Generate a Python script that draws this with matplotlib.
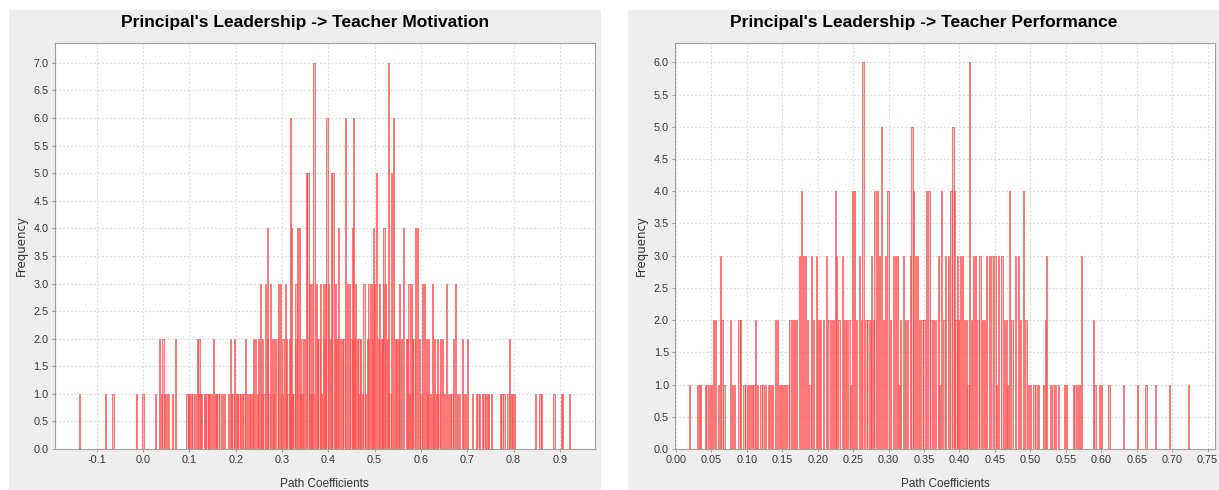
import numpy as np
import matplotlib
matplotlib.use("Agg")
import matplotlib.pyplot as plt
from matplotlib.patches import Rectangle

plt.rcParams['font.family'] = ['Liberation Sans Narrow', 'Liberation Sans', 'DejaVu Sans']

# bootstrap path coefficients, grouped by bin frequency
# Principal's Leadership -> Teacher Motivation
mot_7 = [0.369, 0.530]
mot_6 = [0.318, 0.397, 0.437, 0.454, 0.541]
mot_5 = [0.353, 0.356, 0.406, 0.410, 0.504, 0.536]
mot_4 = [0.269, 0.320, 0.334, 0.338, 0.422, 0.452, 0.498, 0.520, 0.563, 0.588, 0.592]
mot_3 = [0.253, 0.264, 0.276, 0.293, 0.297, 0.307, 0.330, 0.359, 0.364, 0.374, 0.383,
         0.389, 0.394, 0.401, 0.416, 0.441, 0.446, 0.459, 0.477, 0.488, 0.493, 0.500,
         0.511, 0.519, 0.523, 0.554, 0.574, 0.579, 0.603, 0.608, 0.624, 0.655, 0.675]
mot_2 = [0.035, 0.043, 0.070, 0.118, 0.121, 0.152, 0.188, 0.197, 0.222, 0.239, 0.243,
         0.250, 0.258, 0.268, 0.279, 0.284, 0.289, 0.302, 0.310, 0.316, 0.329, 0.343,
         0.348, 0.376, 0.380, 0.392, 0.404, 0.415, 0.419, 0.426, 0.430, 0.434, 0.449,
         0.457, 0.463, 0.466, 0.470, 0.484, 0.487, 0.496, 0.508, 0.514, 0.517, 0.527,
         0.545, 0.548, 0.551, 0.558, 0.568, 0.571, 0.582, 0.585, 0.596, 0.612, 0.617,
         0.630, 0.636, 0.642, 0.646, 0.670, 0.689, 0.701, 0.791]
mot_1 = [-0.137, -0.081, -0.065, -0.014, 0.000, 0.027, 0.039, 0.047, 0.051, 0.055,
         0.064, 0.095, 0.098, 0.101, 0.104, 0.108, 0.113, 0.123, 0.126, 0.132, 0.135,
         0.138, 0.141, 0.144, 0.147, 0.156, 0.159, 0.162, 0.166, 0.171, 0.175, 0.184,
         0.191, 0.194, 0.201, 0.204, 0.207, 0.211, 0.215, 0.218, 0.226, 0.229, 0.232,
         0.236, 0.247, 0.256, 0.261, 0.272, 0.282, 0.300, 0.313, 0.323, 0.326, 0.340,
         0.345, 0.362, 0.367, 0.386, 0.468, 0.474, 0.481, 0.533, 0.576, 0.600, 0.614,
         0.620, 0.627, 0.633, 0.639, 0.650, 0.660, 0.664, 0.667, 0.678, 0.684, 0.692,
         0.696, 0.711, 0.720, 0.723, 0.727, 0.732, 0.736, 0.739, 0.743, 0.746, 0.752,
         0.772, 0.775, 0.779, 0.788, 0.795, 0.798, 0.802, 0.848, 0.857, 0.860, 0.887,
         0.903, 0.906, 0.920]

# Principal's Leadership -> Teacher Performance
perf_6 = [0.264, 0.414]
perf_5 = [0.290, 0.333, 0.391]
perf_4 = [0.177, 0.225, 0.249, 0.252, 0.281, 0.284, 0.299, 0.335, 0.353, 0.357, 0.375,
          0.388, 0.393, 0.471, 0.490]
perf_3 = [0.063, 0.174, 0.180, 0.183, 0.191, 0.198, 0.212, 0.227, 0.235, 0.259, 0.276,
          0.287, 0.296, 0.307, 0.310, 0.313, 0.321, 0.331, 0.338, 0.341, 0.370, 0.380,
          0.384, 0.397, 0.401, 0.404, 0.420, 0.423, 0.429, 0.438, 0.442, 0.446, 0.450,
          0.455, 0.460, 0.479, 0.483, 0.523, 0.572]
perf_2 = [0.053, 0.056, 0.065, 0.077, 0.089, 0.091, 0.112, 0.140, 0.143, 0.161, 0.164,
          0.167, 0.170, 0.186, 0.194, 0.201, 0.204, 0.208, 0.216, 0.219, 0.222, 0.230,
          0.238, 0.241, 0.244, 0.255, 0.262, 0.268, 0.271, 0.274, 0.279, 0.293, 0.303,
          0.317, 0.324, 0.327, 0.344, 0.347, 0.350, 0.360, 0.363, 0.366, 0.378, 0.395,
          0.399, 0.407, 0.410, 0.417, 0.426, 0.432, 0.435, 0.463, 0.466, 0.474, 0.486,
          0.494, 0.521, 0.589]
perf_1 = [0.019, 0.030, 0.033, 0.035, 0.042, 0.044, 0.047, 0.050, 0.060, 0.068, 0.080,
          0.083, 0.096, 0.099, 0.102, 0.105, 0.108, 0.110, 0.115, 0.120, 0.123, 0.126,
          0.131, 0.133, 0.136, 0.146, 0.149, 0.152, 0.155, 0.158, 0.189, 0.246, 0.315,
          0.372, 0.412, 0.452, 0.468, 0.497, 0.500, 0.505, 0.508, 0.511, 0.519, 0.528,
          0.532, 0.535, 0.540, 0.548, 0.551, 0.561, 0.563, 0.566, 0.569, 0.591, 0.597,
          0.600, 0.611, 0.631, 0.651, 0.663, 0.676, 0.696, 0.723]

mot_groups = [mot_1, mot_2, mot_3, mot_4, mot_5, mot_6, mot_7]
perf_groups = [perf_1, perf_2, perf_3, perf_4, perf_5, perf_6]


def flatten(groups):
    xs, fs = [], []
    for h, vals in enumerate(groups, start=1):
        xs += vals
        fs += [h] * len(vals)
    return np.array(xs), np.array(fs)


W, H = 1219, 490
fig = plt.figure(figsize=(W / 100, H / 100), dpi=100)
fig.patch.set_facecolor('white')

# grey panel backgrounds
for x0, x1 in [(9, 601), (628, 1219)]:
    fig.patches.append(Rectangle((x0 / W, 0), (x1 - x0) / W, (490 - 10) / H,
                                 transform=fig.transFigure, facecolor='#eeeeee',
                                 edgecolor='none', zorder=-10))

panels = [
    dict(groups=mot_groups, title="Principal's Leadership -> Teacher Motivation",
         left=54.7, right=594.7, xlim=(-0.1907, 0.975), ylim=(0, 7.36),
         xticks=np.arange(-0.1, 0.95, 0.1), fmt='{:.1f}', width=0.0026,
         yticks=np.arange(0, 7.01, 0.5), tcx=305),
    dict(groups=perf_groups, title="Principal's Leadership -> Teacher Performance",
         left=675.2, right=1214.7, xlim=(-0.001, 0.760), ylim=(0, 6.3),
         xticks=np.arange(0, 0.76, 0.05), fmt='{:.2f}', width=0.0018,
         yticks=np.arange(0, 6.01, 0.5), tcx=923.5),
]

for p in panels:
    top, bottom = 43, 449
    ax = fig.add_axes([p['left'] / W, 1 - bottom / H, (p['right'] - p['left']) / W,
                       (bottom - top) / H])
    ax.set_zorder(1)
    ax.set_facecolor('white')
    x, f = flatten(p['groups'])
    ax.bar(x, f, width=p['width'], align='center', facecolor=(1, 0.45, 0.45, 0.45),
           edgecolor=(1, 0.3, 0.3, 0.85), linewidth=0.6, zorder=3)
    ax.set_xlim(*p['xlim'])
    ax.set_ylim(*p['ylim'])
    ax.set_xticks(p['xticks'])
    ax.set_xticklabels([p['fmt'].format(0.0 if abs(t) < 1e-9 else t) for t in p['xticks']])
    ax.set_yticks(p['yticks'])
    ax.set_yticklabels(['{:.1f}'.format(t) for t in p['yticks']])
    ax.grid(True, color='#dadada', linestyle=(0, (1.5, 2)), linewidth=0.8, zorder=0)
    ax.set_axisbelow(True)
    for s in ax.spines.values():
        s.set_color('#a0a0a0')
        s.set_linewidth(0.8)
    ax.tick_params(axis='both', length=2.5, width=0.6, color='#909090',
                   labelsize=7.8, labelcolor='#333333', pad=2)
    ax.set_xlabel('Path Coefficients', fontsize=8.5, color='#333333')
    ax.xaxis.set_label_coords(0.5, -0.072)
    ax.set_ylabel('Frequency', fontsize=8.5, color='#333333',
                  family=['DejaVu Sans'])
    ax.yaxis.set_label_coords(-0.05, 0.5)
    fig.text(p['tcx'] / W, 1 - 23 / H, p['title'], ha='center', va='center',
             fontsize=12.5, fontweight='bold', color='black')

fig.savefig('out.png', dpi=100)
